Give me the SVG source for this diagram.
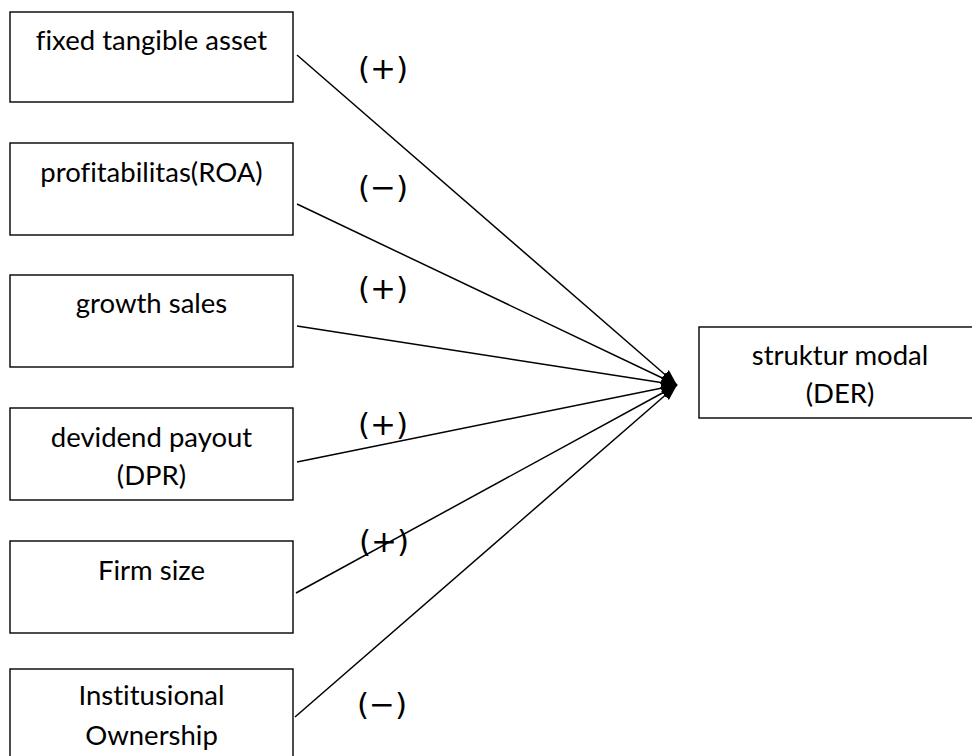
<svg xmlns="http://www.w3.org/2000/svg" width="972" height="756" viewBox="0 0 972 756">
<style>
.box{fill:#fff;stroke:#000;stroke-width:1.4}
.t{font-family:Lato,"Noto Sans",sans-serif;font-size:27.5px;fill:#000;text-anchor:middle;font-variant-ligatures:none}
.lbl{font-family:"DejaVu Sans",sans-serif;font-size:31px;fill:#000;text-anchor:middle}
.c{stroke:#000;stroke-width:1.5;fill:none;marker-end:url(#ah)}
</style>
<defs>
<marker id="ah" markerUnits="userSpaceOnUse" markerWidth="18" markerHeight="14" refX="16" refY="7" orient="auto">
<path d="M0,1 L16,7 L0,13 Z" fill="#000"/>
</marker>
</defs>
<rect width="972" height="756" fill="#fff"/>
<g id="connectors">
<line class="c" x1="297" y1="55" x2="677" y2="385"/>
<line class="c" x1="297" y1="204" x2="677" y2="385"/>
<line class="c" x1="297" y1="326" x2="677" y2="385"/>
<line class="c" x1="297" y1="462" x2="677" y2="385"/>
<line class="c" x1="296" y1="593" x2="677" y2="385"/>
<line class="c" x1="295" y1="717" x2="677" y2="385"/>
</g>
<g id="labels">
<text class="lbl" x="383" y="79">(+)</text>
<text class="lbl" x="383" y="198">(−)</text>
<text class="lbl" x="383" y="299">(+)</text>
<text class="lbl" x="383" y="435">(+)</text>
<text class="lbl" x="384" y="552">(+)</text>
<text class="lbl" x="382" y="715">(−)</text>
</g>
<g id="n1"><rect class="box" x="10" y="12" width="283" height="90"/><text class="t" x="151.5" y="50">fixed tangible asset</text></g>
<g id="n2"><rect class="box" x="10" y="143" width="283" height="92"/><text class="t" x="151.5" y="182">profitabilitas(ROA)</text></g>
<g id="n3"><rect class="box" x="10" y="275" width="283" height="92"/><text class="t" x="151.5" y="313">growth sales</text></g>
<g id="n4"><rect class="box" x="10" y="408" width="283" height="92"/><text class="t" x="151.5" y="447">devidend payout</text><text class="t" x="151.5" y="485">(DPR)</text></g>
<g id="n5"><rect class="box" x="10" y="541" width="283" height="92"/><text class="t" x="151.5" y="580">Firm size</text></g>
<g id="n6"><rect class="box" x="10" y="669" width="283" height="110"/><text class="t" x="151.5" y="705">Institusional</text><text class="t" x="151.5" y="745">Ownership</text></g>
<g id="n7"><rect class="box" x="699" y="327" width="282" height="91"/><text class="t" x="840" y="365">struktur modal</text><text class="t" x="840" y="403">(DER)</text></g>
</svg>
